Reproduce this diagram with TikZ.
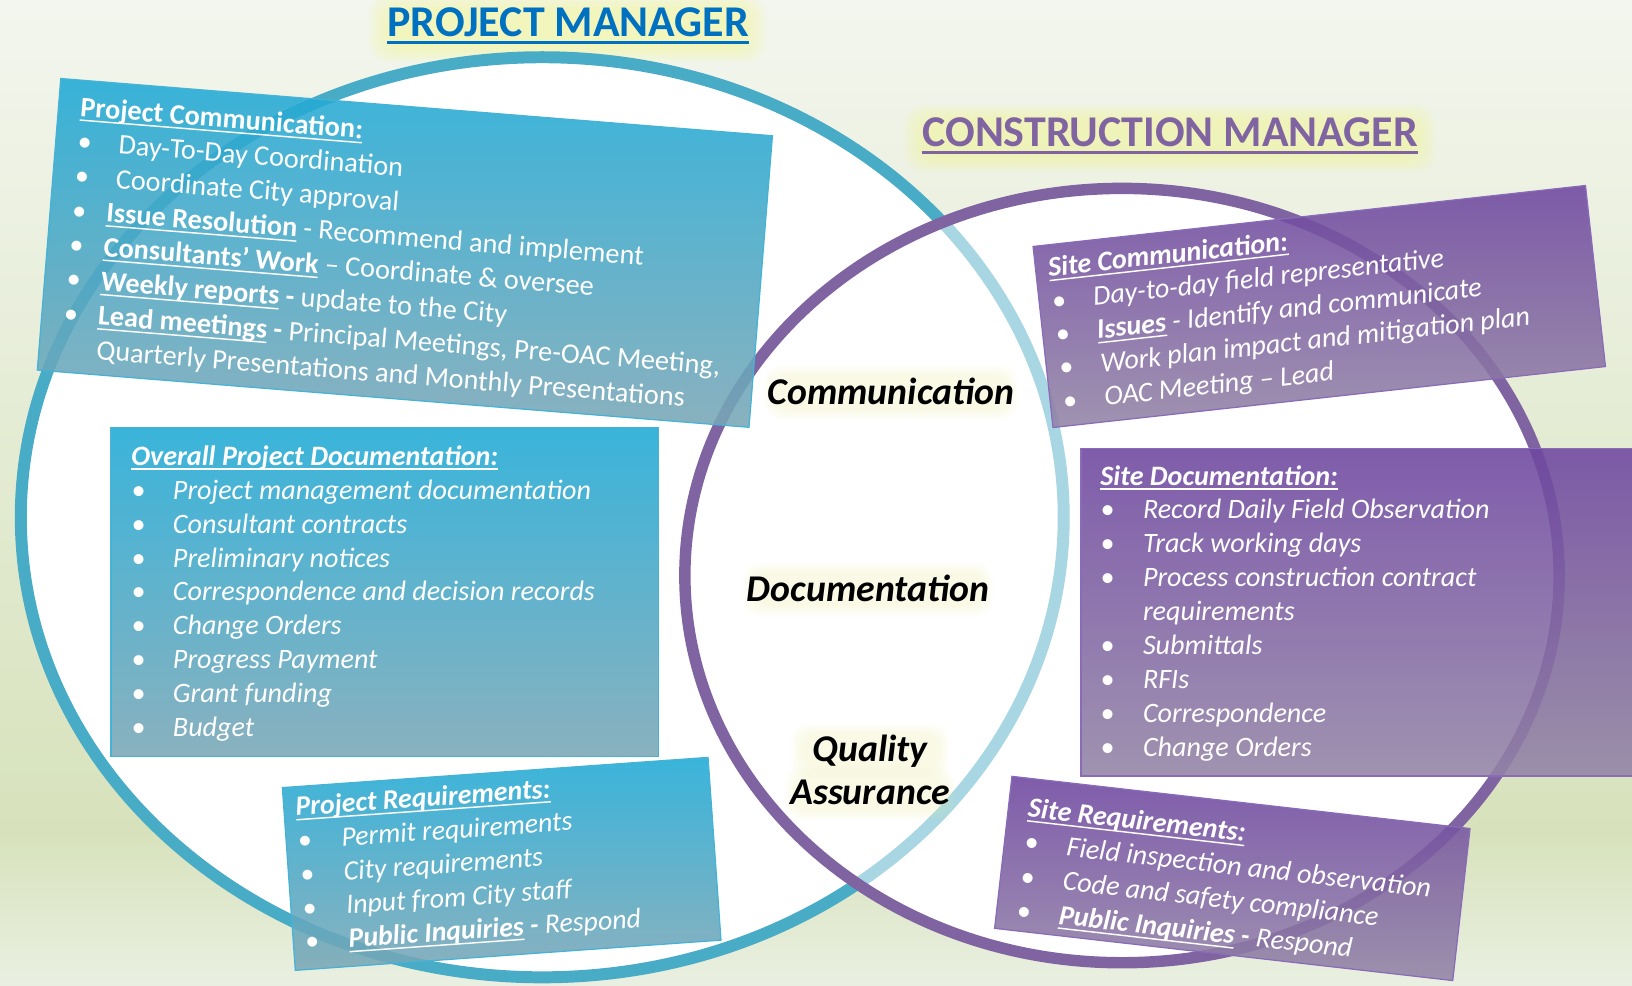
\documentclass[tikz,border=0pt]{standalone}
\usepackage{fontspec}
\setmainfont{Carlito}
\definecolor{bgtop}{HTML}{F3F6EE}
\definecolor{bgmid}{HTML}{D7E2BC}
\definecolor{bgbot}{HTML}{EAF0E2}
\definecolor{glowc}{HTML}{F2F59A}
\definecolor{blueline}{HTML}{49ACC7}
\definecolor{bluelight}{HTML}{A8D7E3}
\definecolor{purpleline}{HTML}{8064A2}
\definecolor{bbtop}{HTML}{1FAAD6}
\definecolor{bbbot}{HTML}{7AA7B6}
\definecolor{bbedge}{HTML}{45B2D6}
\definecolor{pbtop}{HTML}{6E46A0}
\definecolor{pbbot}{HTML}{9384A6}
\definecolor{pbedge}{HTML}{8A6BB8}
\definecolor{pmblue}{HTML}{0070C0}
\definecolor{cmpurple}{HTML}{8064A2}
\newsavebox{\ulbox}
\newlength{\uldp}
\setlength{\uldp}{4.5pt}
\newcommand{\ulthk}{1.4pt}
\newcommand{\myul}[1]{\sbox{\ulbox}{#1}\rlap{\rule[-\uldp]{\wd\ulbox}{\ulthk}}\usebox{\ulbox}}
\newcommand{\Bul}[1]{\makebox[#1pt][l]{\textbullet}}
\newcommand{\hd}[1]{\textbf{\myul{#1}}}
\begin{document}
\begin{tikzpicture}[x=1pt,y=1pt,
  bluebox/.style={draw=bbedge, line width=1.2pt, top color=bbtop, bottom color=bbbot, fill opacity=0.88, inner sep=0pt},
  purplebox/.style={draw=pbedge, line width=1.2pt, top color=pbtop, bottom color=pbbot, fill opacity=0.88, inner sep=0pt},
  boxtext/.style={text=white, inner sep=0pt, anchor=base west},
  centerlabel/.style={font=\fontsize{36.3}{42}\selectfont\bfseries\itshape, text=black, anchor=base, inner sep=0pt},
  glowlayer/.style={glowc, fill opacity=0.075, rounded corners=18pt},
  softglow/.style={glowc, fill opacity=0.045, rounded corners=16pt}]
\useasboundingbox (0,0) rectangle (1568,947);
\clip (0,0) rectangle (1568,947);
% background
\shade[top color=bgtop, bottom color=bgmid] (0,147) rectangle (1568,948);
\shade[top color=bgmid, bottom color=bgbot] (0,-1) rectangle (1568,147.5);
% title glows
\foreach \i in {0,...,9} {
  \fill[glowlayer] (374-2.2*\i, 902-1.6*\i) rectangle (716+2.2*\i, 938+1.6*\i);
  \fill[glowlayer] (888-2.2*\i, 796-1.6*\i) rectangle (1360+2.2*\i, 832+1.6*\i);
}
% ellipses
\fill[white] (521,450) ellipse [x radius=501, y radius=442];
\draw[blueline, line width=11.5pt] (521,450) ellipse [x radius=501, y radius=442];
\fill[white] (1078,394) ellipse [x radius=420, y radius=372];
\begin{scope}
  \clip (1078,394) ellipse [x radius=420, y radius=372];
  \draw[bluelight, line width=11.5pt] (521,450) ellipse [x radius=501, y radius=442];
\end{scope}
\draw[purpleline, line width=11pt] (1078,394) ellipse [x radius=420, y radius=372];
% center label glows
\foreach \i in {0,...,5} {
  \fill[softglow] (744-2*\i, 554-2*\i) rectangle (968+2*\i, 586+2*\i);
  \fill[softglow] (724-2*\i, 365-2*\i) rectangle (944+2*\i, 397+2*\i);
  \fill[softglow] (770-2*\i, 210-2*\i) rectangle (902+2*\i, 242+2*\i);
  \fill[softglow] (764-2*\i, 169-2*\i) rectangle (908+2*\i, 201+2*\i);
}
% titles
\node[anchor=base west, inner sep=0pt, text=pmblue, font=\fontsize{42.2}{50}\selectfont\bfseries] (pmtitle) at (372,912)
  {\setlength{\uldp}{7pt}\renewcommand{\ulthk}{3pt}\myul{PROJECT MANAGER}};
\node[anchor=base west, inner sep=0pt, text=cmpurple, font=\fontsize{42.2}{50}\selectfont\bfseries] (cmtitle) at (886,806)
  {\setlength{\uldp}{7pt}\renewcommand{\ulthk}{3pt}\myul{CONSTRUCTION MANAGER}};
% center labels
\node[centerlabel] (comm) at (856,558) {Communication};
\node[centerlabel] (docu) at (834,369) {Documentation};
\node[centerlabel] (qual) at (836,215) {Quality};
\node[centerlabel] (assu) at (836,174) {Assurance};
% Box A: Project Communication
\begin{scope}[shift={(389,704)}, rotate=-4.6, transform shape]
  \node[bluebox, minimum width=686pt, minimum height=281pt] (boxA) at (0,0) {};
  \node[boxtext, font=\fontsize{27.2}{33.1}\selectfont] (txtA) at (-322,106) {\begin{tabular}[t]{@{}l@{}}
    \hd{Project Communication:}\\
    \Bul{39.5}Day-To-Day Coordination\\
    \Bul{39.5}Coordinate City approval\\
    \Bul{33}\hd{Issue Resolution} - Recommend and implement\\
    \Bul{33}\hd{Consultants’ Work} – Coordinate \& oversee\\
    \Bul{33}\hd{Weekly reports} \textbf{-} update to the City\\
    \Bul{33}\hd{Lead meetings} \textbf{-} Principal Meetings, Pre-OAC Meeting,\\
    \hspace*{34pt}Quarterly Presentations and Monthly Presentations
  \end{tabular}};
\end{scope}
% Box B: Overall Project Documentation
\node[bluebox, anchor=north west, minimum width=526pt, minimum height=316pt] (boxB) at (106,537) {};
\node[boxtext, font=\fontsize{27}{32.6}\selectfont\itshape] (txtB) at (126,500) {\begin{tabular}[t]{@{}l@{}}
  \hd{Overall Project Documentation:}\\
  \Bul{40}Project management documentation\\
  \Bul{40}Consultant contracts\\
  \Bul{40}Preliminary notices\\
  \Bul{40}Correspondence and decision records\\
  \Bul{40}Change Orders\\
  \Bul{40}Progress Payment\\
  \Bul{40}Grant funding\\
  \Bul{40}Budget
\end{tabular}};
% Box C: Project Requirements
\begin{scope}[shift={(482,117)}, rotate=4.06, transform shape]
  \node[bluebox, minimum width=410pt, minimum height=176pt] (boxC) at (0,0) {};
  \node[boxtext, font=\fontsize{26.8}{32.5}\selectfont\itshape] (txtC) at (-194,60) {\begin{tabular}[t]{@{}l@{}}
    \hd{Project Requirements:}\\
    \Bul{42}Permit requirements\\
    \Bul{42}City requirements\\
    \Bul{42}Input from City staff\\
    \Bul{42}\hd{Public Inquiries} \textbf{-} Respond
  \end{tabular}};
\end{scope}
% Box D: Site Communication
\begin{scope}[shift={(1267.5,652.5)}, rotate=6.3, transform shape]
  \node[purplebox, minimum width=534pt, minimum height=175pt] (boxD) at (0,0) {};
  \node[boxtext, font=\fontsize{27}{32.3}\selectfont\itshape] (txtD) at (-255,57) {\begin{tabular}[t]{@{}l@{}}
    \hd{Site Communication:}\\
    \Bul{40}Day-to-day field representative\\
    \Bul{40}\hd{Issues} - Identify and communicate\\
    \Bul{40}Work plan impact and mitigation plan\\
    \Bul{40}OAC Meeting – Lead
  \end{tabular}};
\end{scope}
% Box E: Site Documentation
\node[purplebox, anchor=north west, minimum width=562pt, minimum height=315pt] (boxE) at (1038,517) {};
\node[boxtext, font=\fontsize{27}{32.6}\selectfont\itshape] (txtE) at (1057,481) {\begin{tabular}[t]{@{}l@{}}
  \hd{Site Documentation:}\\
  \Bul{41}Record Daily Field Observation\\
  \Bul{41}Track working days\\
  \Bul{41}Process construction contract\\
  \hspace*{41pt}requirements\\
  \Bul{41}Submittals\\
  \Bul{41}RFIs\\
  \Bul{41}Correspondence\\
  \Bul{41}Change Orders
\end{tabular}};
% Box F: Site Requirements
\begin{scope}[shift={(1184,103)}, rotate=-6.5, transform shape]
  \node[purplebox, minimum width=443pt, minimum height=147pt] (boxF) at (0,0) {};
  \node[boxtext, font=\fontsize{27}{33}\selectfont\itshape] (txtF) at (-202.5,36.5) {\begin{tabular}[t]{@{}l@{}}
    \hd{Site Requirements:}\\
    \Bul{41}Field inspection and observation\\
    \Bul{41}Code and safety compliance\\
    \Bul{41}\hd{Public Inquiries} \textbf{-} Respond
  \end{tabular}};
\end{scope}
\end{tikzpicture}
\end{document}
